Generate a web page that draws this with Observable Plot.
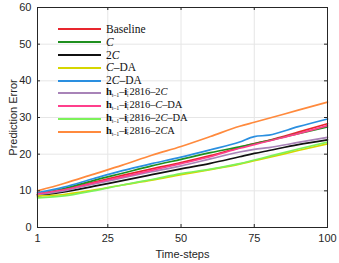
<!DOCTYPE html>
<html><head><meta charset="utf-8">
<script src="https://cdn.jsdelivr.net/npm/d3@7"></script>
<script src="https://cdn.jsdelivr.net/npm/@observablehq/plot@0.6"></script>
<style>
body{margin:0;background:#fff;}
#wrap{position:relative;width:339px;height:263px;}
#legend{position:absolute;left:58px;top:23px;font-family:"Liberation Serif","Times New Roman",serif;font-size:11.5px;color:#111;}
.row{height:12.8px;line-height:12.8px;white-space:nowrap;display:flex;align-items:center;}
.sw{width:43px;height:2px;margin-right:5px;flex:none;}
.b{font-weight:bold;}
.h{font-size:10.5px;letter-spacing:-0.1px;}
.sb{font-size:6px;position:relative;top:2px;}
.st{display:inline-flex;flex-direction:column;font-size:5.5px;line-height:5px;vertical-align:middle;margin-right:1px;}
svg text{font-weight:normal;}
</style>
</head><body>
<div id="wrap"><div id="chart"></div><div id="legend"></div></div>
<script>
const steps = [1,10,20,30,40,50,60,70,75,80,90,100];
const seriesNames = ["Baseline","C","2C","C-DA","2C-DA","h-2C","h-C-DA","h-2C-DA","h-2CA"];
const colors = ["#e8262e","#1e8f1e","#111111","#d6d600","#2a8fe0","#a883b8","#ff3f8c","#7df25a","#ff8a3d"];
const baseline = [9.0,10.4,12.3,14.2,16.0,17.7,19.6,21.8,22.9,23.8,26.0,28.3];
const c1       = [9.0,10.6,12.8,14.8,16.8,18.6,20.4,22.0,22.8,23.7,25.6,27.4];
const c2       = [8.6,9.7,11.2,12.8,14.4,16.0,17.5,19.3,20.2,21.0,22.6,23.9];
const cDA      = [8.6,9.0,10.2,11.6,12.9,14.4,15.8,17.3,18.2,19.1,21.0,22.8];
const c2DA     = [9.5,11.0,13.3,15.5,17.4,19.2,21.2,23.3,24.8,25.2,27.5,29.6];
const h2C      = [9.0,10.0,11.8,13.5,15.2,16.8,18.7,20.6,21.3,21.8,23.2,24.6];
const hCDA     = [9.2,10.3,12.1,13.8,15.6,17.4,19.3,21.6,22.6,23.6,25.6,27.8];
const h2CDA    = [8.1,8.6,10.0,11.6,13.1,14.7,15.9,17.4,18.4,19.4,21.4,23.3];
const h2CA     = [10.0,12.0,14.5,17.0,19.7,22.1,24.8,27.6,28.7,29.8,32.0,34.2];
const allSeries = [baseline,c1,c2,cDA,c2DA,h2C,hCDA,h2CDA,h2CA];
const xTicks = [1,25,50,75,100];
const yTicks = [0,10,20,30,40,50,60];

const data = [];
allSeries.forEach((arr,i)=>arr.forEach((v,j)=>data.push({series:seriesNames[i],t:steps[j],v})));

const W=339,H=263,mL=37,mR=12,mT=7,mB=36;
const pw=W-mL-mR, ph=H-mT-mB;
const ink="#262626";
const chart = Plot.plot({
  width:W,height:H,marginLeft:mL,marginRight:mR,marginTop:mT,marginBottom:mB,
  style:{fontFamily:"Liberation Sans, Arial, sans-serif",fontSize:"11px",color:ink,background:"#fff"},
  x:{domain:[1,100],ticks:xTicks},
  y:{domain:[0,60],ticks:yTicks},
  color:{domain:seriesNames,range:colors},
  marks:[
    Plot.gridX(xTicks,{stroke:"#e6e6e6",strokeOpacity:1}),
    Plot.gridY(yTicks,{stroke:"#e6e6e6",strokeOpacity:1}),
    Plot.lineY(data,{x:"t",y:"v",z:"series",stroke:"series",strokeWidth:1.7,curve:"monotone-x"}),
    Plot.frame({stroke:ink,strokeWidth:1}),
    Plot.tickX(xTicks,{x:d=>d,stroke:ink,insetTop:ph-3}),
    Plot.tickX(xTicks,{x:d=>d,stroke:ink,insetBottom:ph-3}),
    Plot.tickY(yTicks,{y:d=>d,stroke:ink,insetRight:pw-3}),
    Plot.tickY(yTicks,{y:d=>d,stroke:ink,insetLeft:pw-3}),
    Plot.axisX(xTicks,{tickSize:0,tickPadding:7,label:"Time-steps",labelAnchor:"center",labelArrow:"none",labelOffset:30,fill:ink}),
    Plot.axisY(yTicks,{tickSize:0,tickPadding:6,label:"Prediction Error",labelAnchor:"center",labelArrow:"none",labelOffset:28,fill:ink})
  ]
});
document.getElementById("chart").appendChild(chart);

const hpre = '<span class="b">h</span><span class="sb">t–1</span>–<span class="b">i</span><span class="st"><span>;</span><span>t</span></span>2816–';
const labels = [
  'Baseline',
  '<i>C</i>',
  '2<i>C</i>',
  '<i>C</i>–DA',
  '2<i>C</i>–DA',
  hpre+'2<i>C</i>',
  hpre+'<i>C</i>–DA',
  hpre+'2<i>C</i>–DA',
  hpre+'2<i>C</i>A'
];
const lg=document.getElementById("legend");
labels.forEach((l,i)=>{
  const r=document.createElement("div");r.className="row";
  r.innerHTML=`<div class="sw" style="background:${colors[i]}"></div><span class="${i>=5?'h':''}">${l}</span>`;
  lg.appendChild(r);
});
</script>
</body></html>
